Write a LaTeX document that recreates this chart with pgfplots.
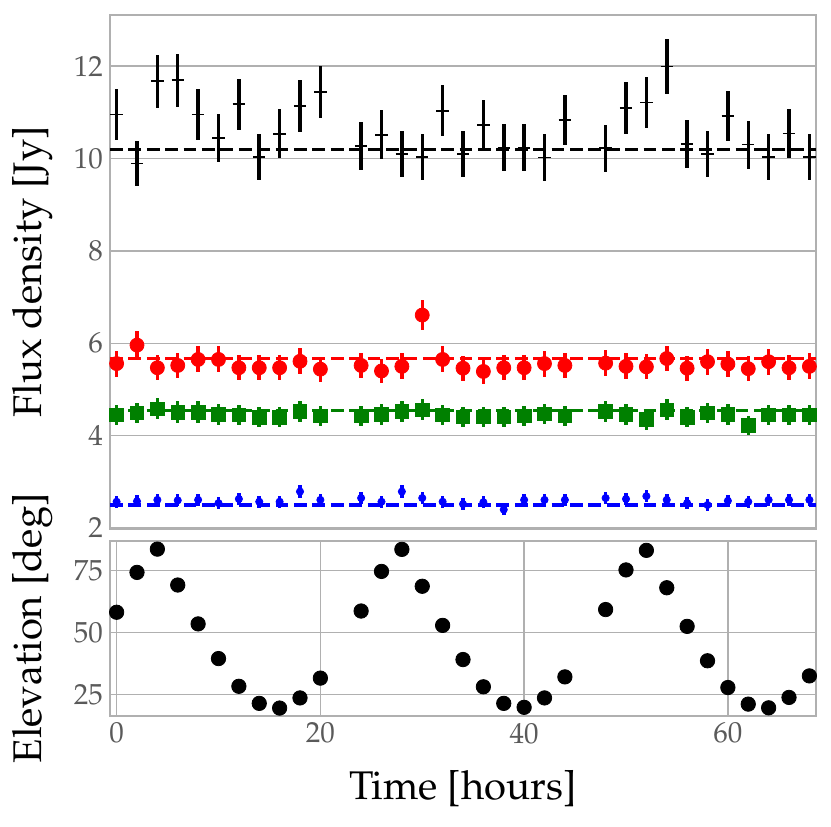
\documentclass[border=0pt]{standalone}
\usepackage[T1]{fontenc}
\usepackage{mathpazo}
\usepackage{pgfplots}
\usepackage{pgfplotstable}
\pgfplotsset{compat=1.18}
\definecolor{gridc}{RGB}{176,176,176}
\definecolor{tickc}{RGB}{90,90,90}
\definecolor{mgreen}{RGB}{0,128,0}

\pgfplotstableread{
x y e
0 10.95 0.55
2 9.89 0.49
4 11.67 0.58
6 11.69 0.58
8 10.95 0.55
10 10.45 0.52
12 11.17 0.56
14 10.03 0.50
16 10.53 0.53
18 11.13 0.56
20 11.44 0.57
24 10.27 0.51
26 10.51 0.53
28 10.09 0.50
30 10.03 0.50
32 11.03 0.55
34 10.09 0.50
36 10.72 0.54
38 10.23 0.51
40 10.23 0.51
42 10.02 0.50
44 10.83 0.54
48 10.22 0.51
50 11.10 0.56
52 11.21 0.56
54 11.99 0.60
56 10.32 0.52
58 10.09 0.50
60 10.92 0.55
62 10.30 0.52
64 10.03 0.50
66 10.54 0.53
68 10.03 0.50
}\tblk

\pgfplotstableread{
x y e
0 5.56 0.28
2 5.96 0.30
4 5.47 0.27
6 5.52 0.28
8 5.65 0.28
10 5.65 0.28
12 5.47 0.27
14 5.47 0.27
16 5.47 0.27
18 5.61 0.28
20 5.44 0.27
24 5.52 0.28
26 5.40 0.27
28 5.50 0.28
30 6.61 0.33
32 5.65 0.28
34 5.46 0.27
36 5.39 0.27
38 5.47 0.27
40 5.47 0.27
42 5.56 0.28
44 5.52 0.28
48 5.57 0.28
50 5.50 0.28
52 5.49 0.27
54 5.67 0.28
56 5.46 0.27
58 5.60 0.28
60 5.55 0.28
62 5.45 0.27
64 5.60 0.28
66 5.47 0.27
68 5.50 0.28
}\tred

\pgfplotstableread{
x y e
0 4.45 0.22
2 4.49 0.22
4 4.58 0.23
6 4.51 0.23
8 4.51 0.23
10 4.46 0.22
12 4.45 0.22
14 4.40 0.22
16 4.40 0.22
18 4.52 0.23
20 4.43 0.22
24 4.43 0.22
26 4.46 0.22
28 4.52 0.23
30 4.56 0.23
32 4.45 0.22
34 4.41 0.22
36 4.41 0.22
38 4.41 0.22
40 4.43 0.22
42 4.47 0.22
44 4.43 0.22
48 4.53 0.23
50 4.46 0.22
52 4.35 0.22
54 4.56 0.23
56 4.40 0.22
58 4.49 0.22
60 4.46 0.22
62 4.22 0.21
64 4.45 0.22
66 4.45 0.22
68 4.45 0.22
}\tgrn

\pgfplotstableread{
x y e
0 2.57 0.13
2 2.58 0.13
4 2.61 0.13
6 2.60 0.13
8 2.61 0.13
10 2.54 0.13
12 2.63 0.13
14 2.57 0.13
16 2.57 0.13
18 2.79 0.14
20 2.61 0.13
24 2.65 0.13
26 2.57 0.13
28 2.79 0.14
30 2.65 0.13
32 2.57 0.13
34 2.52 0.13
36 2.56 0.13
38 2.40 0.12
40 2.61 0.13
42 2.61 0.13
44 2.61 0.13
48 2.65 0.13
50 2.63 0.13
52 2.69 0.13
54 2.61 0.13
56 2.54 0.13
58 2.50 0.13
60 2.59 0.13
62 2.57 0.13
64 2.61 0.13
66 2.61 0.13
68 2.61 0.13
}\tblu

\pgfplotstableread{
x y
0 58.2
2 74.3
4 83.7
6 69.2
8 53.5
10 39.5
12 28.3
14 21.4
16 19.5
18 23.6
20 31.6
24 58.7
26 74.7
28 83.6
30 68.7
32 52.9
34 39.1
36 28.1
38 21.4
40 19.8
42 23.6
44 32.1
48 59.3
50 75.3
52 83.2
54 68.1
56 52.5
58 38.6
60 27.8
62 21.1
64 19.6
66 23.8
68 32.5
}\telev

\pgfplotsset{
  base/.style={
    scale only axis, width=353pt,
    xmin=-0.65, xmax=68.65,
    xtick={0,20,40,60},
    major grid style={gridc, line width=0.75pt},
    axis line style={gridc, line width=1.1pt},
    major tick length=0pt,
    tick label style={font=\fontsize{14.5}{17}\selectfont, color=tickc},
    label style={font=\fontsize{20}{24}\selectfont},
    ylabel style={at={(axis description cs:-0.11,0.5)}, anchor=center},
  },
  ebar/.style={error bars/.cd, y dir=both, y explicit, error mark=none,
    error bar style={line width=1.75pt, #1}},
  mline/.style={#1, line width=1.65pt, dash pattern=on 6.4pt off 2.8pt},
}

\begin{document}
\begin{tikzpicture}
\path[use as bounding box] (0,0) rectangle (415.5pt,413pt);
\begin{axis}[base, at={(55pt,148.5pt)}, anchor=south west,
  height=257pt, ymin=1.98, ymax=13.105,
  ymajorgrids=true, xmajorgrids=false,
  ytick={2,4,6,8,10,12}, xticklabels={},
  ylabel={Flux density [Jy]}]
\addplot[black, only marks, mark=+, mark size=3.1pt, mark options={line width=0.9pt},
  ebar=black] table[x=x, y=y, y error=e] {\tblk};
\addplot[red, only marks, mark=*, mark size=3.5pt, mark options={draw=red, fill=red},
  ebar=red] table[x=x, y=y, y error=e] {\tred};
\addplot[mgreen, only marks, mark=square*, mark size=3.4pt, mark options={draw=mgreen, fill=mgreen},
  ebar=mgreen] table[x=x, y=y, y error=e] {\tgrn};
\addplot[blue, only marks, mark=*, mark size=1.8pt, mark options={draw=blue, fill=blue},
  ebar=blue] table[x=x, y=y, y error=e] {\tblu};
\addplot[mline=black] coordinates {(-0.65,10.2) (68.65,10.2)};
\addplot[mline=red] coordinates {(-0.65,5.675) (68.65,5.675)};
\addplot[mline=mgreen] coordinates {(-0.65,4.55) (68.65,4.55)};
\addplot[mline=blue] coordinates {(-0.65,2.50) (68.65,2.50)};
\end{axis}
\begin{axis}[base, at={(55pt,55pt)}, anchor=south west,
  height=87.65pt, ymin=16.3, ymax=87.1,
  grid=major,
  ytick={25,50,75},
  xlabel={Time [hours]}, ylabel={Elevation [deg]},
  xlabel style={at={(axis description cs:0.5,-0.479)}, anchor=base}]
\addplot[black, only marks, mark=*, mark size=3.6pt] table[x=x, y=y] {\telev};
\end{axis}
\end{tikzpicture}
\end{document}
